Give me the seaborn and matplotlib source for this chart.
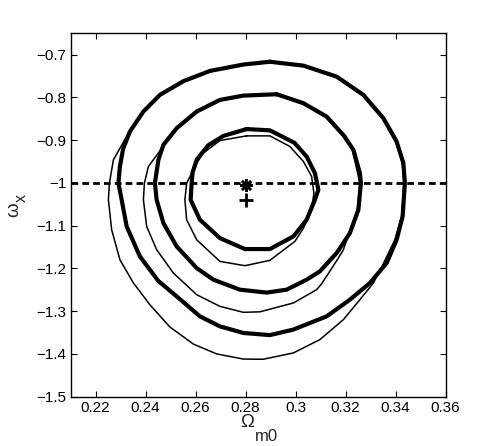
import numpy as np
import pandas as pd
import seaborn as sns
import matplotlib
matplotlib.use("Agg")
import matplotlib.pyplot as plt

# contour vertices: (Omega_m0, omega_x)
thick_outer = [(0.2897, -0.7165), (0.2791, -0.7230), (0.2657, -0.7380), (0.2551, -0.7620),
               (0.2457, -0.7940), (0.2391, -0.8330), (0.2337, -0.8798), (0.2310, -0.9200),
               (0.2297, -0.9615), (0.2291, -1.0005), (0.2304, -1.0394), (0.2324, -1.1017),
               (0.2377, -1.1718), (0.2450, -1.2290), (0.2524, -1.2653), (0.2617, -1.3121),
               (0.2697, -1.3355), (0.2791, -1.3510), (0.2897, -1.3560), (0.2991, -1.3430),
               (0.3124, -1.3121), (0.3217, -1.2731), (0.3297, -1.2341), (0.3364, -1.1874),
               (0.3404, -1.1329), (0.3428, -1.0783), (0.3437, -1.0005), (0.3431, -0.9537),
               (0.3404, -0.9032), (0.3351, -0.8486), (0.3271, -0.7940), (0.3164, -0.7513),
               (0.3031, -0.7256)]
thick_mid = [(0.2924, -0.7925), (0.2791, -0.7957), (0.2697, -0.8058), (0.2604, -0.8331),
             (0.2524, -0.8720), (0.2471, -0.9110), (0.2451, -0.9460), (0.2437, -1.0005),
             (0.2444, -1.0394), (0.2471, -1.0939), (0.2524, -1.1484), (0.2604, -1.1991),
             (0.2671, -1.2263), (0.2777, -1.2497), (0.2884, -1.2565), (0.2964, -1.2497),
             (0.3044, -1.2263), (0.3097, -1.2069), (0.3164, -1.1640), (0.3217, -1.1173),
             (0.3251, -1.0628), (0.3261, -1.0005), (0.3257, -0.9771), (0.3231, -0.9226),
             (0.3194, -0.8900), (0.3124, -0.8448), (0.3031, -0.8135)]
thick_inner = [(0.2804, -0.8740), (0.2711, -0.8900), (0.2650, -0.9120), (0.2605, -0.9450),
               (0.2588, -0.9750), (0.2584, -1.0005), (0.2580, -1.0394), (0.2617, -1.0861),
               (0.2697, -1.1290), (0.2797, -1.1547), (0.2897, -1.1547), (0.2991, -1.1251),
               (0.3044, -1.0861), (0.3077, -1.0394), (0.3091, -1.0160), (0.3077, -0.9771),
               (0.3044, -0.9382), (0.2995, -0.9060), (0.2897, -0.8770)]
thin_outer = [(0.2897, -0.7180), (0.2791, -0.7245), (0.2657, -0.7395), (0.2551, -0.7635),
              (0.2457, -0.7955), (0.2391, -0.8345), (0.2331, -0.8836), (0.2271, -0.9460),
              (0.2255, -1.0005), (0.2251, -1.0394), (0.2264, -1.1095), (0.2297, -1.1796),
              (0.2351, -1.2340), (0.2417, -1.2850), (0.2497, -1.3370), (0.2591, -1.3770),
              (0.2684, -1.4000), (0.2791, -1.4120), (0.2870, -1.4125), (0.2991, -1.3977),
              (0.3097, -1.3665), (0.3191, -1.3198), (0.3257, -1.2731), (0.3311, -1.2341),
              (0.3352, -1.1874), (0.3397, -1.1329), (0.3424, -1.0783), (0.3433, -1.0005),
              (0.3427, -0.9537), (0.3400, -0.9032), (0.3347, -0.8486), (0.3267, -0.7950),
              (0.3160, -0.7525), (0.3031, -0.7270)]
thin_mid = [(0.2924, -0.7940), (0.2791, -0.7972), (0.2697, -0.8072), (0.2604, -0.8345),
            (0.2524, -0.8732), (0.2471, -0.9140), (0.2411, -0.9615), (0.2395, -1.0005),
            (0.2391, -1.0394), (0.2404, -1.1017), (0.2444, -1.1562), (0.2511, -1.2108),
            (0.2604, -1.2614), (0.2697, -1.2887), (0.2791, -1.3027), (0.2857, -1.3015),
            (0.2991, -1.2808), (0.3084, -1.2497), (0.3105, -1.2350), (0.3171, -1.1757),
            (0.3191, -1.1562), (0.3213, -1.1180), (0.3247, -1.0630), (0.3257, -1.0005),
            (0.3227, -0.9226), (0.3190, -0.8910), (0.3120, -0.8460), (0.3031, -0.8150)]
thin_inner = [(0.2804, -0.8899), (0.2697, -0.9008), (0.2631, -0.9300), (0.2604, -0.9537),
              (0.2564, -1.0005), (0.2557, -1.0394), (0.2564, -1.0861), (0.2604, -1.1329),
              (0.2697, -1.1835), (0.2797, -1.1936), (0.2897, -1.1811), (0.2997, -1.1368),
              (0.3031, -1.1060), (0.3064, -1.0628), (0.3073, -1.0238), (0.3064, -0.9849),
              (0.3031, -0.9498), (0.2977, -0.9148), (0.2897, -0.8899)]

fiducial_w = -1.0
best_fit = (0.28, -1.0044)    # asterisk
second_fit = (0.28, -1.04)    # plus

xticks = [0.22, 0.24, 0.26, 0.28, 0.30, 0.32, 0.34, 0.36]
xtick_labels = ["0.22", "0.24", "0.26", "0.28", "0.3", "0.32", "0.34", "0.36"]
yticks = [-1.5, -1.4, -1.3, -1.2, -1.1, -1.0, -0.9, -0.8, -0.7]
ytick_labels = ["\u22121.5", "\u22121.4", "\u22121.3", "\u22121.2", "\u22121.1",
                "\u22121", "\u22120.9", "\u22120.8", "\u22120.7"]

sns.set_style("white")
plt.rcParams["font.family"] = ["Liberation Sans", "DejaVu Sans"]

fig = plt.figure(figsize=(4.91, 4.46), dpi=100)
ax = fig.add_axes([0.1439, 0.1106, 0.7637, 0.8147])


def draw(pts, lw):
    df = pd.DataFrame(pts + pts[:1], columns=["om", "w"])
    sns.lineplot(data=df, x="om", y="w", sort=False, estimator=None,
                 color="black", lw=lw, ax=ax)


for c in (thin_outer, thin_mid, thin_inner):
    draw(c, 1.1)
for c in (thick_outer, thick_mid, thick_inner):
    draw(c, 3.0)

ax.axhline(fiducial_w, color="black", lw=2.0, ls=(0, (2.4, 1.5)))
ax.plot(*best_fit, marker=(8, 2, 0), ms=9, mew=1.8, color="black")
ax.plot(*second_fit, marker="+", ms=10, mew=2.0, color="black")

ax.set_xlim(0.21, 0.36)
ax.set_ylim(-1.5, -0.65)
ax.set_xticks(xticks, xtick_labels, fontsize=11)
ax.set_yticks(yticks, ytick_labels, fontsize=11)
ax.tick_params(direction="in", length=4, width=0.8, top=True, right=True,
               bottom=True, left=True, colors="black", pad=3)
for s in ax.spines.values():
    s.set_color("black")
    s.set_linewidth(1.0)
ax.set_xlabel("")
ax.set_ylabel("")

# axis labels with large MATLAB-style subscripts
kw = dict(rotation_mode="anchor", ha="left", va="baseline")
fig.text(240 / 491, 1 - 427 / 446, "\u03a9", fontsize=13.5, **kw)
fig.text(255 / 491, 1 - 441 / 446, "m0", fontsize=12, **kw)
fig.text(18.3 / 491, 1 - 217 / 446, "\u03c9", fontsize=13.5, rotation=90, **kw)
fig.text(25.5 / 491, 1 - 202 / 446, "x", fontsize=11.5, rotation=90, **kw)

fig.savefig("out.png", dpi=100)
